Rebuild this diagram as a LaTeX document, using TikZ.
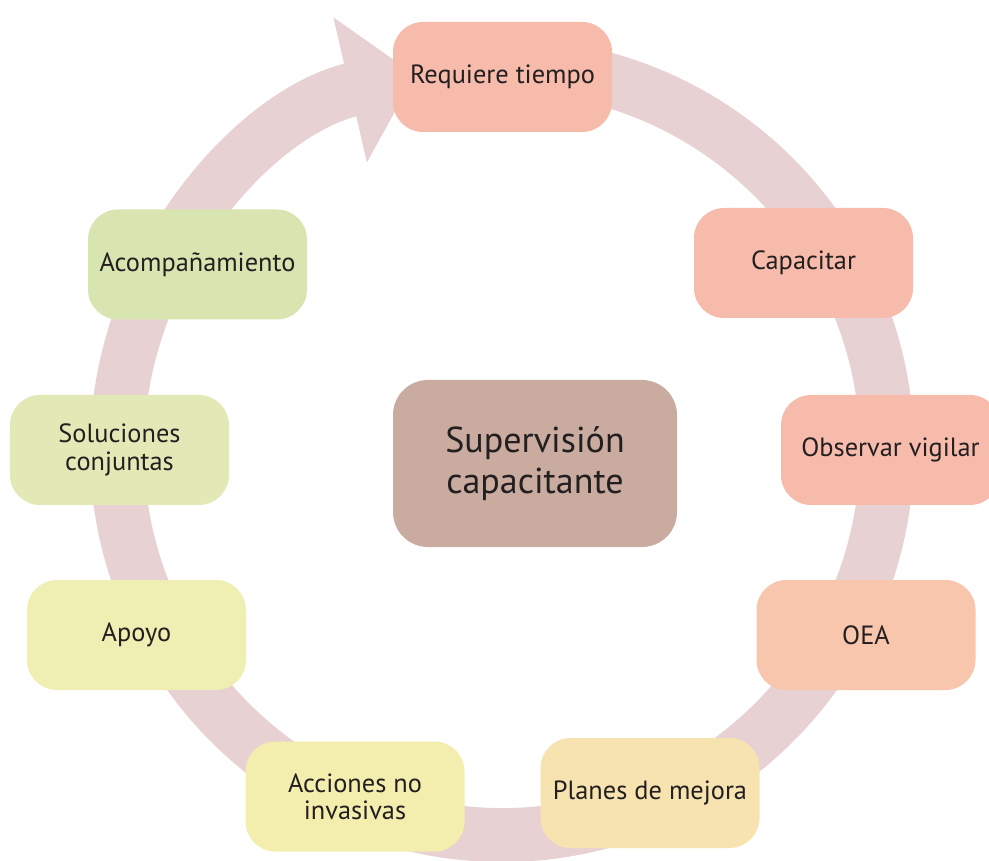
\documentclass[tikz,border=0pt]{standalone}
\usepackage{fontspec}
\setmainfont{PT Sans}
\usetikzlibrary{arrows.meta}

\definecolor{anillo}{HTML}{E8D1D3}
\definecolor{texto}{HTML}{231F20}
\definecolor{salmon}{HTML}{F7BBAB}
\definecolor{naranja}{HTML}{F8C6AC}
\definecolor{crema}{HTML}{F7E3B0}
\definecolor{amarillo}{HTML}{F3EEAE}
\definecolor{limon}{HTML}{EFEFB4}
\definecolor{verdeclaro}{HTML}{E3E9B6}
\definecolor{verde}{HTML}{D8E5B0}
\definecolor{marron}{HTML}{C9AB9F}

\tikzset{
  etapa/.style={fill=#1,rounded corners=0.6cm,minimum width=4.38cm,
    minimum height=2.2cm,align=center,text=texto,
    font=\fontsize{15}{15.5}\selectfont},
  centro/.style={fill=marron,rounded corners=0.7cm,minimum width=5.68cm,
    minimum height=3.34cm,align=center,text=texto,
    font=\fontsize{20.5}{23}\selectfont}
}

\begin{document}
\begin{tikzpicture}
       \useasboundingbox(0,0)rectangle(19.78,17.2);%marco
       \coordinate(C)at(10.04,8.2);%centro del anillo

       \draw[anillo,line width=1.08cm,
           -{Triangle[width=2.9cm,length=1.34cm]}]
           (C)++(80:7.7)arc[start angle=80,end angle=-257,radius=7.7];%flecha circular

       \node[centro](sup)at(10.7,7.93){Supervisión\\capacitante};%centro

       \node[etapa=salmon](req)at(10.05,15.66){Requiere tiempo};
       \node[etapa=salmon](cap)at(16.07,11.94){Capacitar};
       \node[etapa=salmon](obs)at(17.81,8.2){Observar vigilar};
       \node[etapa=naranja](oea)at(17.32,4.5){OEA};
       \node[etapa=crema](pla)at(13.0,1.34){Planes de mejora};
       \node[etapa=amarillo](acc)at(7.1,1.27){Acciones no\\invasivas};
       \node[etapa=limon](apo)at(2.73,4.5){Apoyo};
       \node[etapa=verdeclaro](sol)at(2.39,8.2){Soluciones\\conjuntas};
       \node[etapa=verde](aco)at(3.95,11.91){Acompañamiento};
\end{tikzpicture}
\end{document}
